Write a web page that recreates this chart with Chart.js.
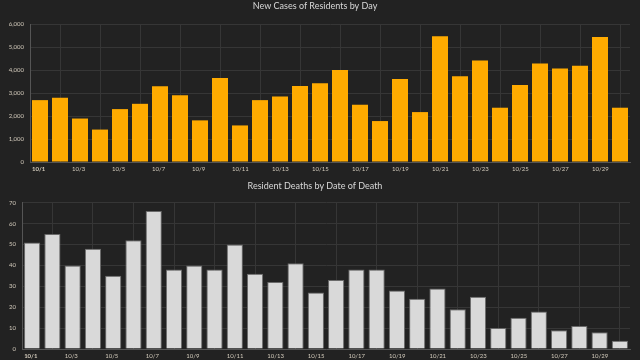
<!DOCTYPE html>
<html>
<head>
<meta charset="utf-8">
<script src="https://cdn.jsdelivr.net/npm/chart.js@4/dist/chart.umd.min.js"></script>
<style>
  html, body { margin: 0; padding: 0; background: #222222; }
  canvas { display: block; }
</style>
</head>
<body>
<canvas id="cases" width="640" height="180"></canvas>
<canvas id="deaths" width="640" height="180"></canvas>
<script>
const days = ["10/1","10/2","10/3","10/4","10/5","10/6","10/7","10/8","10/9","10/10",
  "10/11","10/12","10/13","10/14","10/15","10/16","10/17","10/18","10/19","10/20",
  "10/21","10/22","10/23","10/24","10/25","10/26","10/27","10/28","10/29","10/30"];
const newCases = [2690, 2790, 1890, 1410, 2300, 2530, 3290, 2900, 1810, 3650,
  1590, 2690, 2850, 3300, 3420, 4000, 2490, 1780, 3610, 2170,
  5470, 3730, 4410, 2360, 3350, 4280, 4060, 4180, 5440, 2360];
const deaths = [51, 55, 40, 48, 35, 52, 66, 38, 40, 38,
  50, 36, 32, 41, 27, 33, 38, 38, 28, 24,
  29, 19, 25, 10, 15, 18, 9, 11, 8, 4];
const caseTicks = [0, 1000, 2000, 3000, 4000, 5000, 6000];
const deathTicks = [0, 10, 20, 30, 40, 50, 60, 70];

const FAMILY = "Lato, 'Noto Sans', sans-serif";
const TICK_COLOR = '#d2cabb';
const GRID_COLOR = '#363636';

function makeChart(id, opts) {
  return new Chart(document.getElementById(id), {
    type: 'bar',
    data: {
      labels: days,
      datasets: [{
        data: opts.values,
        backgroundColor: opts.color,
        borderColor: opts.border,
        borderWidth: opts.borderWidth,
        barPercentage: 0.8,
        categoryPercentage: 1.0
      }]
    },
    options: {
      responsive: false,
      animation: false,
      layout: { padding: { left: 0, right: 10, top: 0, bottom: 0 } },
      plugins: {
        legend: { display: false },
        tooltip: { enabled: false },
        title: {
          display: true,
          text: opts.title,
          color: '#d8d8d8',
          font: { family: FAMILY, size: 9, weight: 'normal', lineHeight: 1.2 },
          padding: { top: 1, bottom: opts.titleBottom }
        }
      },
      scales: {
        x: {
          offset: true,
          grid: { offset: true, color: GRID_COLOR, drawTicks: false },
          border: { color: '#555555' },
          afterFit: (s) => { s.height = opts.xHeight; },
          ticks: {
            autoSkip: false,
            maxRotation: 0,
            align: 'start',
            labelOffset: -8,
            padding: 3,
            color: TICK_COLOR,
            font: (ctx) => ({ family: FAMILY, size: 6, weight: ctx.index === 0 ? 'bold' : 'normal' }),
            callback: function (val, idx) { return idx % 2 === 0 ? this.getLabelForValue(val) : null; }
          }
        },
        y: {
          min: 0,
          max: opts.ticks[opts.ticks.length - 1],
          grid: { color: GRID_COLOR, drawTicks: false },
          border: { color: '#555555' },
          afterFit: (s) => { s.width = opts.yWidth; },
          afterBuildTicks: (s) => { s.ticks = opts.ticks.map(v => ({ value: v })); },
          ticks: {
            padding: 6,
            color: TICK_COLOR,
            font: { family: FAMILY, size: 6 },
            callback: (v) => v.toLocaleString('en-US')
          }
        }
      }
    }
  });
}

makeChart('cases', {
  values: newCases, color: '#ffab00', border: '#ffab00', borderWidth: 0,
  title: 'New Cases of Residents by Day', titleBottom: 12.2,
  ticks: caseTicks, xHeight: 18, yWidth: 30
});
makeChart('deaths', {
  values: deaths, color: '#d9d9d9', border: '#6a6a6a', borderWidth: 1,
  title: 'Resident Deaths by Date of Death', titleBottom: 10.9,
  ticks: deathTicks, xHeight: 11, yWidth: 22
});
</script>
</body>
</html>
